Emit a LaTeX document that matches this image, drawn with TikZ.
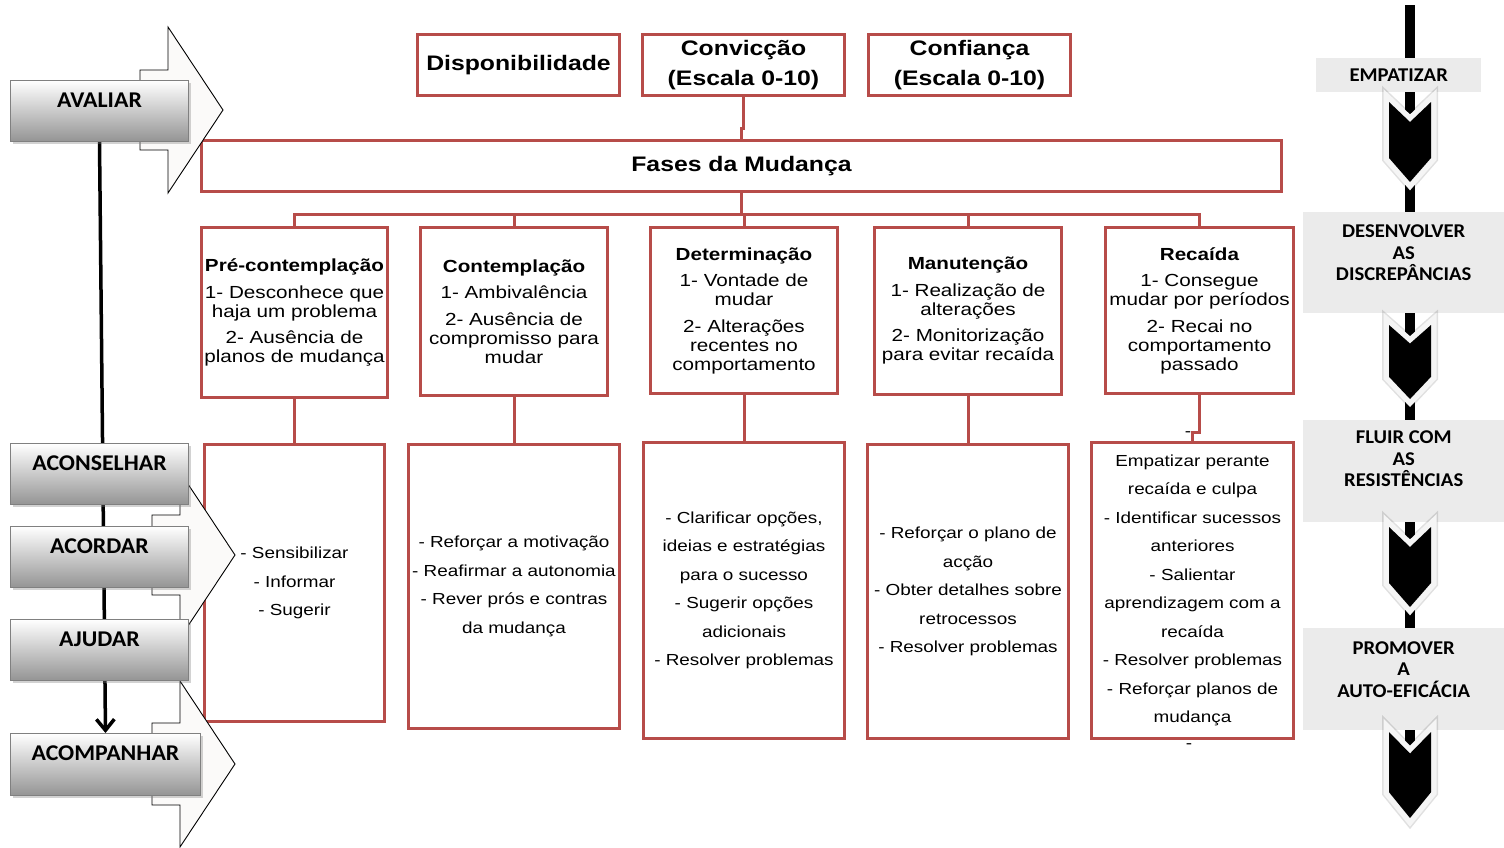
\documentclass[tikz,border=0pt]{standalone}
\usepackage{fontspec}
\setmainfont{Liberation Sans}[FakeStretch=1.18]
\newfontfamily\calb{Carlito}[FakeStretch=1.06]
\usetikzlibrary{shadows,calc,arrows.meta,backgrounds}
\definecolor{rb}{RGB}{183,76,73}
\definecolor{arrfill}{RGB}{251,250,249}
\definecolor{gbox}{RGB}{235,235,235}
\begin{document}
\begin{tikzpicture}[x=1pt,y=-1pt,
  redbox/.style={draw=rb, line width=3pt, fill=white, inner sep=0pt, anchor=north west, align=center},
  topbox/.style={redbox, font=\fontsize{21}{30}\selectfont\bfseries, minimum width=202pt, minimum height=61pt},
  stagebox/.style={redbox, font=\fontsize{17.5}{19}\selectfont},
  lowbox/.style={redbox, font=\fontsize{16}{28.5}\selectfont},
  conn/.style={draw=rb, line width=3pt},
  lbox/.style={draw=black!50, line width=1pt, top color=white, bottom color=black!42, anchor=north west, inner sep=0pt,
     font=\calb\bfseries\fontsize{22.5}{24}\selectfont, text height=26.5pt, text depth=34.5pt, minimum width=178pt,
     drop shadow={shadow xshift=2.5pt, shadow yshift=-2.5pt, opacity=.35}},
  blockarrow/.style={draw=black, line width=0.9pt, fill=arrfill, line join=miter},
  rbox/.style={fill=gbox, inner sep=0pt, anchor=north west, font=\calb\bfseries\fontsize{19.5}{21.5}\selectfont},
  rtext/.style={font=\calb\bfseries\fontsize{19.5}{21.5}\selectfont, align=center, inner sep=0pt, anchor=north},
  chev/.style={fill=black, preaction={draw=black, opacity=.12, line width=14pt, line join=miter},
     preaction={draw=gray!8, line width=11pt, line join=miter}},
  dashmark/.style={font=\fontsize{16}{16}\selectfont, inner sep=0pt},
]
\useasboundingbox (0,0) rectangle (1504,847);

% ---------- right column ----------
\draw[line width=10pt] (1410,5) -- (1410,815);
\node[rbox, minimum width=165pt, minimum height=34pt] (R1) at (1316,58) {EMPATIZAR};
\node[rbox, minimum width=201pt, minimum height=101pt] (R2) at (1303,212) {};
\node[rtext] (T2) at ($(R2.north)+(0,13)$) {DESENVOLVER\\AS\\DISCREPÂNCIAS};
\node[rbox, minimum width=201pt, minimum height=102pt] (R3) at (1303,420) {};
\node[rtext] (T3) at ($(R3.north)+(0,11)$) {FLUIR COM\\AS\\RESISTÊNCIAS};
\node[rbox, minimum width=201pt, minimum height=102pt] (R4) at (1303,628) {};
\node[rtext] (T4) at ($(R4.north)+(0,13)$) {PROMOVER\\A\\AUTO-EFICÁCIA};
\foreach \t/\h in {102/80, 325/74, 527/80, 732/86} {
  \fill[chev] (1389,\t) -- (1410,{\t+0.25*\h}) -- (1431,\t) -- (1431,{\t+0.7*\h})
     -- (1410,{\t+\h}) -- (1389,{\t+0.7*\h}) -- cycle;
}

% ---------- top boxes ----------
\node[topbox] (D) at (416,33) {Disponibilidade};
\node[topbox] (C1) at (641,33) {Convicção\\(Escala 0-10)};
\node[topbox] (C2) at (867,33) {Confiança\\(Escala 0-10)};
\node[redbox, minimum width=1080pt, minimum height=51pt, font=\fontsize{21}{24}\selectfont\bfseries] (F) at (200,139) {Fases da Mudança};

% ---------- stage boxes ----------
\node[stagebox, minimum width=186pt, minimum height=170pt] (S1) at (200,226)
  {\textbf{Pré-contemplação}\\[7.5pt]1- Desconhece que\\haja um problema\\[7.5pt]2- Ausência de\\planos de mudança};
\node[stagebox, minimum width=187pt, minimum height=168pt] (S2) at (419,226)
  {\textbf{Contemplação}\\[7.5pt]1- Ambivalência\\[7.5pt]2- Ausência de\\compromisso para\\mudar};
\node[stagebox, minimum width=187pt, minimum height=166pt] (S3) at (649,226)
  {\textbf{Determinação}\\[7.5pt]1- Vontade de\\mudar\\[7.5pt]2- Alterações\\recentes no\\comportamento};
\node[stagebox, minimum width=187pt, minimum height=167pt] (S4) at (873,226)
  {\textbf{Manutenção}\\[7.5pt]1- Realização de\\alterações\\[7.5pt]2- Monitorização\\para evitar recaída};
\node[stagebox, minimum width=188pt, minimum height=166pt] (S5) at (1104,226)
  {\textbf{Recaída}\\[7.5pt]1- Consegue\\mudar por períodos\\[7.5pt]2- Recai no\\comportamento\\passado};

% ---------- lower boxes ----------
\node[lowbox, minimum width=180pt, minimum height=277pt] (L1) at (203,443)
  {- Sensibilizar\\- Informar\\- Sugerir};
\node[lowbox, minimum width=211pt, minimum height=284pt] (L2) at (407,443)
  {- Reforçar a motivação\\- Reafirmar a autonomia\\- Rever prós e contras\\da mudança};
\node[lowbox, minimum width=201pt, minimum height=296pt] (L3) at (642,441)
  {- Clarificar opções,\\ideias e estratégias\\para o sucesso\\- Sugerir opções\\adicionais\\- Resolver problemas};
\node[lowbox, minimum width=201pt, minimum height=294pt] (L4) at (866,443)
  {- Reforçar o plano de\\acção\\- Obter detalhes sobre\\retrocessos\\- Resolver problemas};
\node[lowbox, minimum width=202pt, minimum height=296pt] (L5) at (1090,441)
  {Empatizar perante\\recaída e culpa\\- Identificar sucessos\\anteriores\\- Salientar\\aprendizagem com a\\recaída\\- Resolver problemas\\- Reforçar planos de\\mudança};
\node[dashmark] (dm0) at (1188,434) {-};
\node[dashmark] (dm1) at (1189,746) {-};

% ---------- red connectors ----------
\coordinate (bus) at (0,214);
\draw[conn] (C1.south) |- ($(F.north)+(0,-11)$) -- (F.north);
\draw[conn] (F.south) -- (F.south |- bus);
\draw[conn] (S1.north) -- (S1.north |- bus) -- (S5.north |- bus) -- (S5.north);
\foreach \s in {S2,S3,S4} \draw[conn] (\s.north) -- (\s.north |- bus);
\foreach \s/\l in {S1/L1,S2/L2,S3/L3,S4/L4} \draw[conn] (\s.south) -- (\l.north);
\draw[conn] (S5.south) |- ($(L5.north)+(0,-9)$) -- (L5.north);

% ---------- block arrows ----------
\draw[blockarrow] (140,70) -- (168,70) -- (168,27) -- (223,110) -- (168,193) -- (168,150) -- (140,150) -- cycle;
\draw[blockarrow] (152,515) -- (180,515) -- (180,472) -- (235,555) -- (180,638) -- (180,595) -- (152,595) -- cycle;
\draw[blockarrow] (152,723) -- (180,723) -- (180,681) -- (235,764) -- (180,847) -- (180,805) -- (152,805) -- cycle;

% ---------- left boxes ----------
\node[lbox, minimum height=61pt] (Av) at (10,80) {AVALIAR};
\node[lbox, minimum height=60pt] (Ac) at (10,443) {ACONSELHAR};
\node[lbox, minimum height=61pt] (Ao) at (10,526) {ACORDAR};
\node[lbox, minimum height=61pt] (Aj) at (10,619) {AJUDAR};
\node[lbox, minimum height=62pt, minimum width=190pt] (Am) at (10,733) {ACOMPANHAR};

\begin{scope}[on background layer]
  \fill[white] (0,0) rectangle (1504,847);
  \draw[line width=3.5pt, -{Straight Barb[length=11pt,width=18pt]}] (Av.south) -- (Am.north);
\end{scope}
\end{tikzpicture}
\end{document}
